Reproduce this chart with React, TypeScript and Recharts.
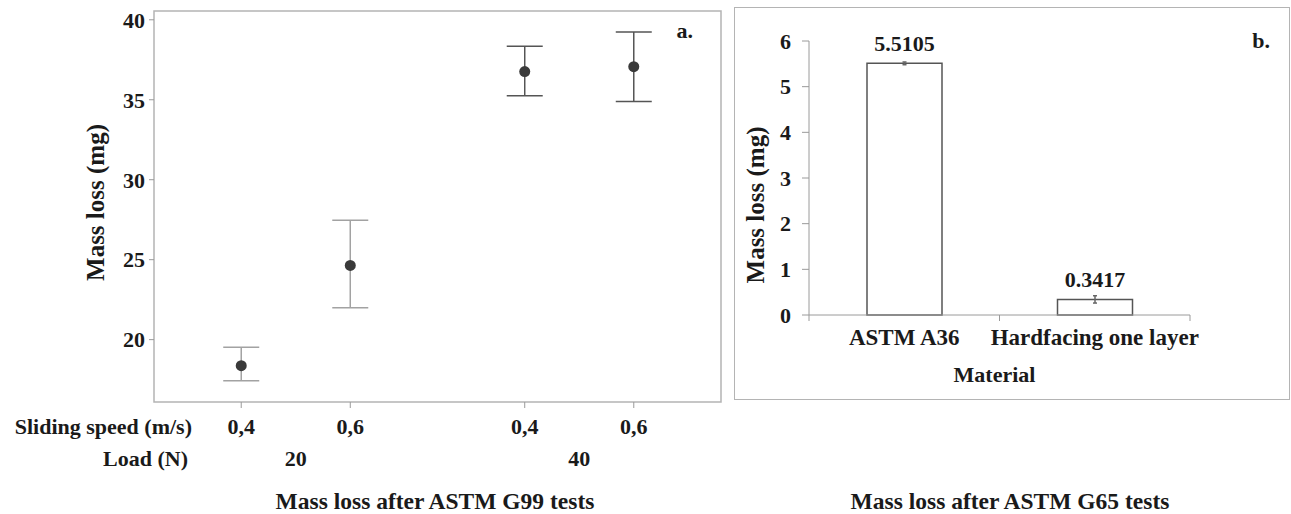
import {
  Bar,
  BarChart,
  ErrorBar,
  LabelList,
  ReferenceArea,
  Scatter,
  ScatterChart,
  XAxis,
  YAxis,
} from "recharts";

const FONT = "'Liberation Serif', 'Times New Roman', serif";
const INK = "#1a1a1a";
const FRAME = "#b4b4b4";
const TICK = "#9a9a9a";

// panel a: ASTM G99 tests
const testPositions = [1, 2, 3.6, 4.6];
const speedLabels = ["0,4", "0,6", "0,4", "0,6"];
const loadLabels = ["20", "40"];
const load20Mean = [18.37, 24.64];
const load20ErrDown = [0.94, 2.65];
const load20ErrUp = [1.15, 2.82];
const load40Mean = [36.76, 37.07];
const load40ErrDown = [1.51, 2.18];
const load40ErrUp = [1.59, 2.16];
const g99Ticks = [20, 25, 30, 35, 40];

// panel b: ASTM G65 tests
const materials = ["ASTM A36", "Hardfacing one layer"];
const g65Mean = [5.5105, 0.3417];
const g65Err = [0.03, 0.08];
const g65Ticks = [0, 1, 2, 3, 4, 5, 6];

const load20Data = load20Mean.map((m, i) => ({
  x: testPositions[i],
  y: m,
  err: [load20ErrDown[i], load20ErrUp[i]],
}));
const load40Data = load40Mean.map((m, i) => ({
  x: testPositions[i + 2],
  y: m,
  err: [load40ErrDown[i], load40ErrUp[i]],
}));
const loadCenters = [
  (testPositions[0] + testPositions[1]) / 2,
  (testPositions[2] + testPositions[3]) / 2,
];
// anchors the load axis so it gets ticks; drawn as nothing
const loadAnchor = loadCenters.map((c) => ({ x: c, y: g99Ticks[0] }));

const g65Data = materials.map((name, i) => ({ material: name, mass: g65Mean[i], err: g65Err[i] }));

const tickStyle = { fontFamily: FONT, fontSize: 22, fontWeight: "bold", fill: INK };

const Dot = (p: any) => <circle cx={p.cx} cy={p.cy} r={5.5} fill="#3a3a3a" />;
const NoDot = () => <g />;

const loadLabelFor = (v: number) => {
  let best = 0;
  loadCenters.forEach((c, i) => {
    if (Math.abs(c - v) < Math.abs(loadCenters[best] - v)) best = i;
  });
  return loadLabels[best];
};

const SideLabel = ({ viewBox, text, dx, dy }: any) => {
  if (!viewBox) return null;
  return (
    <text x={viewBox.x + dx} y={viewBox.y + dy} textAnchor="end" fontFamily={FONT} fontSize={22} fontWeight="bold" fill={INK}>
      {text}
    </text>
  );
};

const CenterLabel = ({ viewBox, text, dx, dy, size }: any) => {
  if (!viewBox) return null;
  return (
    <text
      x={viewBox.x + viewBox.width / 2 + dx}
      y={viewBox.y + dy}
      textAnchor="middle"
      fontFamily={FONT}
      fontSize={size}
      fontWeight="bold"
      fill={INK}
    >
      {text}
    </text>
  );
};

const YTitle = ({ viewBox, dx, dy }: any) => {
  if (!viewBox) return null;
  const x = viewBox.x + dx;
  const y = viewBox.y + viewBox.height / 2 + dy;
  return (
    <text
      x={x}
      y={y}
      transform={`rotate(-90, ${x}, ${y})`}
      textAnchor="middle"
      dominantBaseline="central"
      fontFamily={FONT}
      fontSize={25}
      fontWeight="bold"
      fill={INK}
    >
      Mass loss (mg)
    </text>
  );
};

const PanelTag = ({ viewBox, text }: any) => {
  if (!viewBox) return null;
  return (
    <text x={viewBox.x + viewBox.width - 28} y={viewBox.y + 27} textAnchor="end" fontFamily={FONT} fontSize={22} fontWeight="bold" fill={INK}>
      {text}
    </text>
  );
};

const MaterialTick = (props: any) => {
  const { x, y, payload, index, visibleTicksCount } = props;
  if (!payload) return null;
  const off = payload.offset;
  const axisY = y - 14;
  return (
    <g>
      {off ? <line x1={x - off} x2={x - off} y1={axisY} y2={axisY + 6} stroke={TICK} /> : null}
      {off && index === visibleTicksCount - 1 ? (
        <line x1={x + off} x2={x + off} y1={axisY} y2={axisY + 6} stroke={TICK} />
      ) : null}
      <text x={x} y={y} dy="0.71em" textAnchor="middle" {...tickStyle} fontSize={23}>
        {payload.value}
      </text>
    </g>
  );
};

export default function App() {
  return (
    <div style={{ position: "absolute", left: 0, top: 0, width: 1291, height: 514, background: "#fff" }}>
      <div style={{ position: "absolute", left: 0, top: 0 }}>
        <ScatterChart width={722} height={514} margin={{ top: 11, right: 1, bottom: 0, left: 0 }}>
          <ReferenceArea
            x1={0.2}
            x2={5.4}
            y1={16.1}
            y2={40.55}
            fill="none"
            stroke={FRAME}
            strokeWidth={1.5}
            label={<PanelTag text="a." />}
          />
          <XAxis
            type="number"
            dataKey="x"
            domain={[0.2, 5.4]}
            ticks={testPositions}
            tickFormatter={(v: number) => speedLabels[testPositions.indexOf(v)]}
            height={36}
            axisLine={false}
            tickSize={6}
            tickMargin={10}
            tickLine={{ stroke: TICK }}
            tick={tickStyle}
            label={<SideLabel text="Sliding speed (m/s)" dx={38} dy={32} />}
          />
          <XAxis
            xAxisId="load"
            type="number"
            dataKey="x"
            domain={[0.2, 5.4]}
            ticks={loadCenters}
            tickFormatter={loadLabelFor}
            height={76}
            axisLine={false}
            tickLine={false}
            tickSize={0}
            tickMargin={12}
            tick={tickStyle}
            label={<SideLabel text="Load (N)" dx={34} dy={28} />}
          />
          <YAxis
            type="number"
            dataKey="y"
            domain={[16.1, 40.55]}
            ticks={g99Ticks}
            width={154}
            axisLine={false}
            tickSize={5}
            tickMargin={4}
            tickLine={{ stroke: TICK }}
            tick={tickStyle}
            label={<YTitle dx={95} dy={-4} />}
          />
          <Scatter xAxisId="load" data={loadAnchor} shape={NoDot} isAnimationActive={false} />
          <Scatter data={load20Data} shape={Dot} isAnimationActive={false}>
            <ErrorBar dataKey="err" direction="y" width={18} stroke="#a2a2a2" strokeWidth={1.5} />
          </Scatter>
          <Scatter data={load40Data} shape={Dot} isAnimationActive={false}>
            <ErrorBar dataKey="err" direction="y" width={18} stroke="#555" strokeWidth={1.5} />
          </Scatter>
        </ScatterChart>
      </div>
      <svg width={1291} height={514} style={{ position: "absolute", left: 0, top: 0, pointerEvents: "none" }}>
        <text x={435} y={509} textAnchor="middle" fontFamily={FONT} fontSize={23.5} fontWeight="bold" fill={INK}>
          Mass loss after ASTM G99 tests
        </text>
        <text x={1270} y={48} textAnchor="end" fontFamily={FONT} fontSize={22} fontWeight="bold" fill={INK}>
          b.
        </text>
        <text x={1010} y={509} textAnchor="middle" fontFamily={FONT} fontSize={23.5} fontWeight="bold" fill={INK}>
          Mass loss after ASTM G65 tests
        </text>
      </svg>
      <div
        style={{
          position: "absolute",
          left: 734,
          top: 7,
          width: 556,
          height: 393,
          border: `1.5px solid ${FRAME}`,
          boxSizing: "border-box",
        }}
      />
      <div style={{ position: "absolute", left: 734, top: 7 }}>
        <BarChart width={556} height={393} data={g65Data} margin={{ top: 34, right: 100, bottom: 0, left: 0 }} barSize={75}>
          <XAxis
            dataKey="material"
            height={85}
            axisLine={{ stroke: TICK }}
            tickLine={false}
            tickSize={0}
            tickMargin={14}
            tick={<MaterialTick />}
            label={<CenterLabel text="Material" dx={-5} dy={67} size={22} />}
          />
          <YAxis
            type="number"
            domain={[0, 6]}
            ticks={g65Ticks}
            width={75}
            axisLine={{ stroke: TICK }}
            tickSize={7}
            tickMargin={11}
            tickLine={{ stroke: TICK }}
            tick={tickStyle}
            label={<YTitle dx={21} dy={27} />}
          />
          <Bar dataKey="mass" fill="#fff" stroke="#555" strokeWidth={1.5} isAnimationActive={false}>
            <ErrorBar dataKey="err" direction="y" width={2} stroke="#666" strokeWidth={1.5} />
            <LabelList dataKey="mass" position="top" offset={12} style={{ fontFamily: FONT, fontSize: 22, fontWeight: "bold", fill: INK }} />
          </Bar>
        </BarChart>
      </div>
    </div>
  );
}
